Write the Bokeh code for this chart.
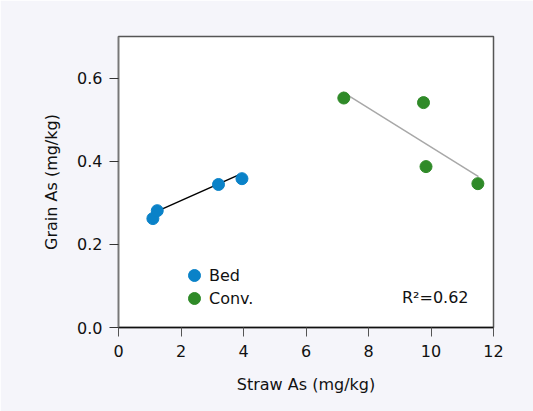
from bokeh.plotting import figure
from bokeh.models import ColumnDataSource, Legend, LegendItem, Label, FixedTicker, NumeralTickFormatter
from bokeh.embed import file_html
from bokeh.resources import INLINE

# --- data ---
bed_straw = [1.10, 1.24, 3.20, 3.95]
bed_grain = [0.262, 0.281, 0.344, 0.358]
conv_straw = [7.21, 9.76, 9.84, 11.50]
conv_grain = [0.552, 0.541, 0.387, 0.346]
bed_fit_x = [1.28, 3.85]
bed_fit_y = [0.281, 0.367]
conv_fit_x = [7.18, 11.52]
conv_fit_y = [0.566, 0.363]
x_ticks = [0, 2, 4, 6, 8, 10, 12]
y_ticks = [0.0, 0.2, 0.4, 0.6]
r2_text = "R\u00b2=0.62"

FONT = "DejaVu Sans"
FS = "16px"
STYLE = "normal"
BED_C = "#0a82c8"
CONV_C = "#2f8a28"
TXT = "#111111"

p = figure(width=533, height=411, x_range=(0, 12), y_range=(0, 0.7),
           output_backend="svg", toolbar_location=None,
           min_border_left=118, min_border_right=40, min_border_top=36, min_border_bottom=84)
p.background_fill_color = "white"
p.border_fill_color = "#f5f5fa"
p.outline_line_color = "#555555"
p.outline_line_width = 1.5
p.xgrid.visible = False
p.ygrid.visible = False

for ax in (p.xaxis[0], p.yaxis[0]):
    ax.major_label_text_font = FONT
    ax.major_label_text_font_size = FS
    ax.major_label_text_font_style = STYLE
    ax.major_label_text_color = TXT
    ax.axis_label_text_font = FONT
    ax.axis_label_text_font_size = FS
    ax.axis_label_text_font_style = STYLE
    ax.axis_label_text_color = TXT
    ax.minor_tick_line_color = None
    ax.major_tick_in = 0
    ax.major_tick_out = 9

p.xaxis.ticker = FixedTicker(ticks=x_ticks)
p.yaxis.ticker = FixedTicker(ticks=y_ticks)
p.yaxis.formatter = NumeralTickFormatter(format="0.0")
p.xaxis.axis_label = "Straw As (mg/kg)"
p.yaxis.axis_label = "Grain As (mg/kg)"
p.xaxis.axis_line_color = "#111111"
p.xaxis.major_tick_line_color = "#555555"
p.xaxis.axis_line_width = 1.5
p.yaxis.axis_line_color = "#777777"
p.yaxis.axis_line_width = 1.5
p.yaxis.major_tick_line_color = "#333333"
p.xaxis.major_label_standoff = 8
p.xaxis.axis_label_standoff = 15
p.yaxis.major_label_standoff = 7
p.yaxis.axis_label_standoff = 13

p.line(bed_fit_x, bed_fit_y, line_color="black", line_width=1.5)
p.line(conv_fit_x, conv_fit_y, line_color="#a8a8a8", line_width=1.5)

bed_src = ColumnDataSource(dict(x=bed_straw, y=bed_grain))
conv_src = ColumnDataSource(dict(x=conv_straw, y=conv_grain))
r_bed = p.scatter("x", "y", source=bed_src, size=12, fill_color=BED_C, line_color=BED_C)
r_conv = p.scatter("x", "y", source=conv_src, size=12, fill_color=CONV_C, line_color=CONV_C)


def make_legend(label, renderer, loc):
    lg = Legend(items=[LegendItem(label=label, renderers=[renderer])], location=loc)
    lg.border_line_color = None
    lg.background_fill_alpha = 0
    lg.label_text_font = FONT
    lg.label_text_font_size = FS
    lg.label_text_font_style = STYLE
    lg.label_text_color = TXT
    lg.glyph_width = 30
    lg.glyph_height = 30
    lg.label_height = 30
    lg.label_standoff = 0
    lg.padding = 0
    lg.margin = 0
    return lg


p.add_layout(make_legend("Bed", r_bed, (61, 37)))
p.add_layout(make_legend("Conv.", r_conv, (61, 14)))

p.add_layout(Label(x=11.2, y=0.072, text=r2_text, text_align="right", text_baseline="middle",
                   text_font=FONT, text_font_size=FS, text_font_style=STYLE, text_color=TXT))

open("out.html", "w").write(file_html(p, INLINE))
